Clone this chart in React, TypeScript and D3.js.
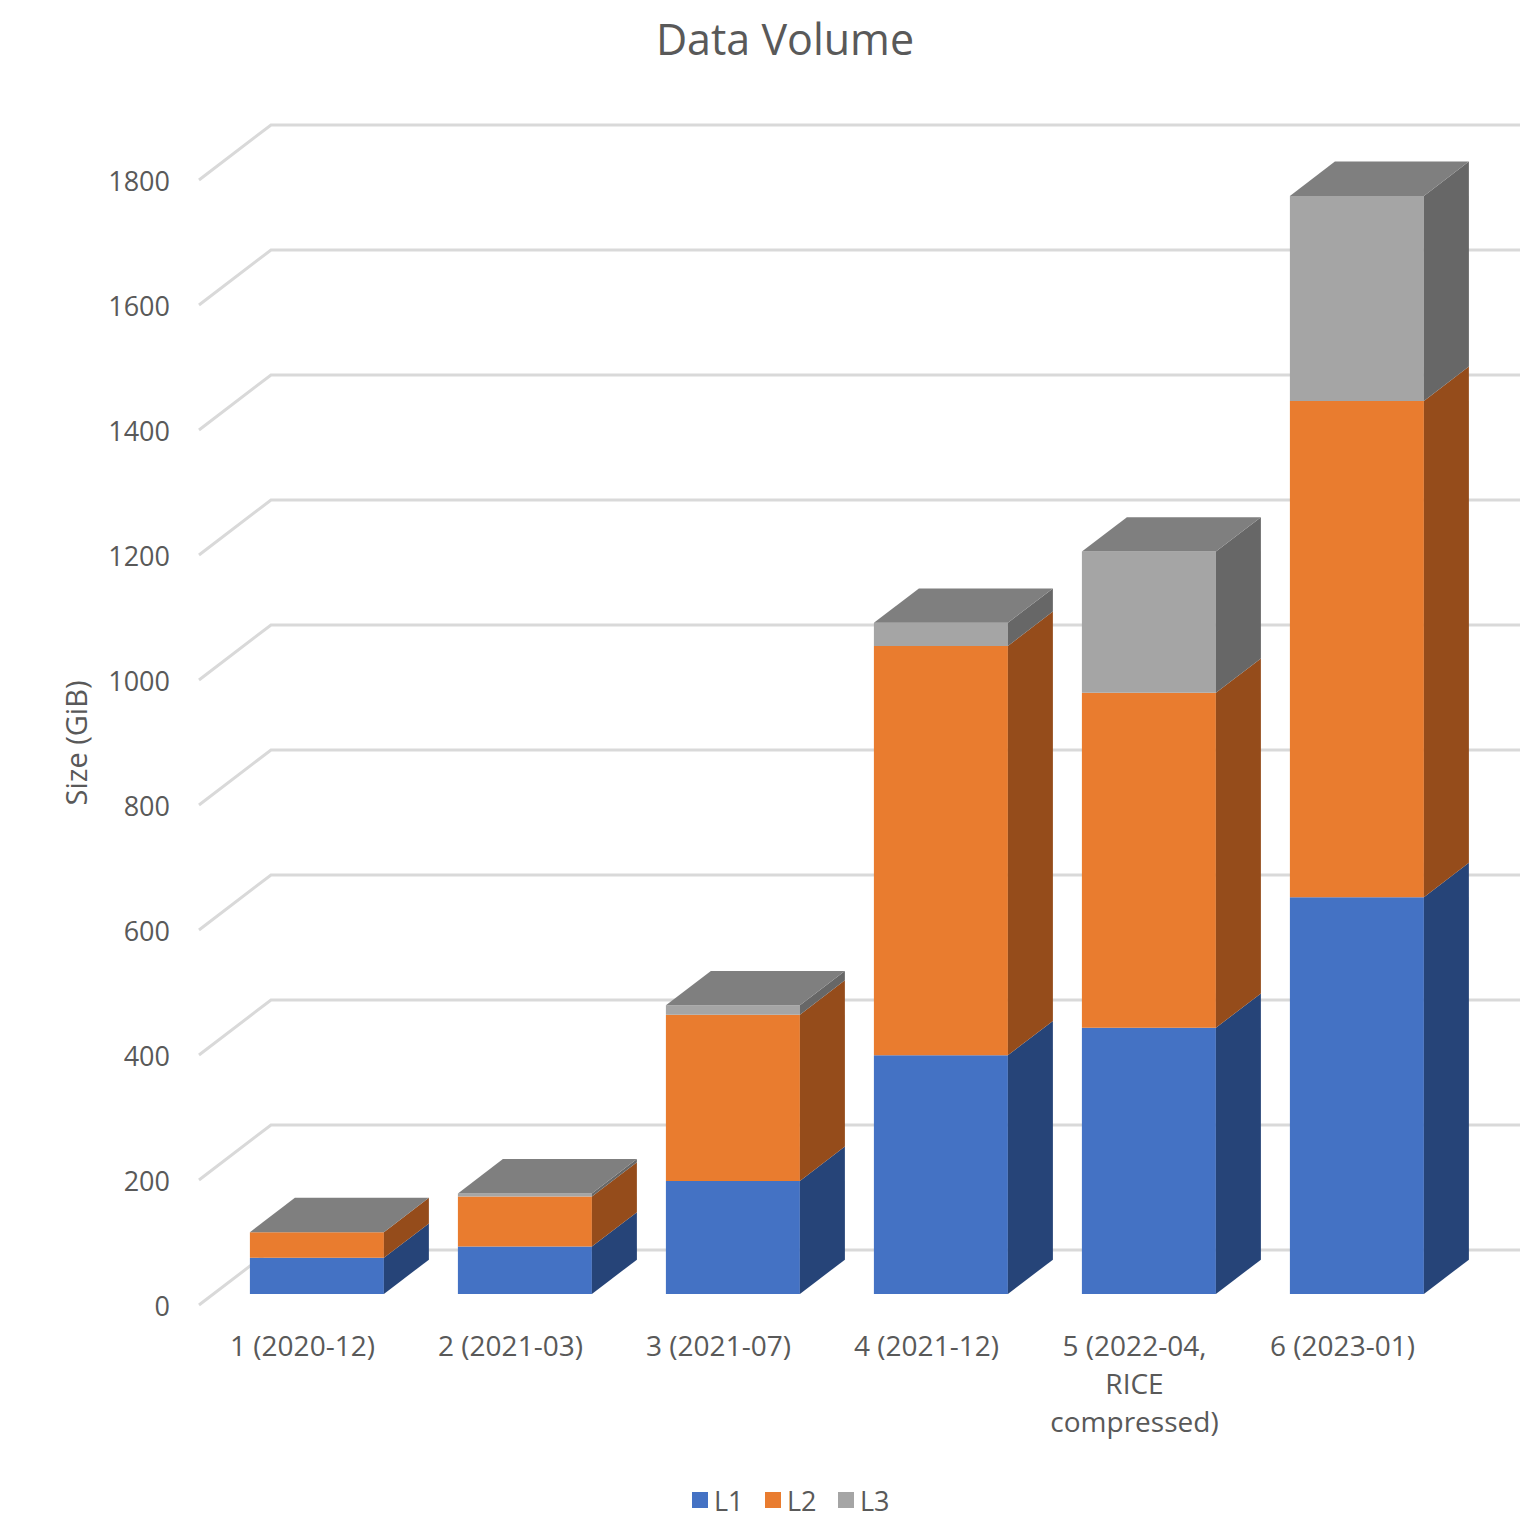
import React from "react";
import * as d3 from "d3";

const categories = ["1 (2020-12)", "2 (2021-03)", "3 (2021-07)", "4 (2021-12)", "5 (2022-04, RICE compressed)", "6 (2023-01)"];
const categoryLines = [["1 (2020-12)"], ["2 (2021-03)"], ["3 (2021-07)"], ["4 (2021-12)"], ["5 (2022-04,", "RICE", "compressed)"], ["6 (2023-01)"]];
const seriesNames = ["L1", "L2", "L3"];
const L1 = [58, 76, 181, 382, 426, 635];
const L2 = [41, 80, 266, 655, 536, 794];
const L3 = [0, 5, 15, 37, 226, 328];
const yTicks = [0, 200, 400, 600, 800, 1000, 1200, 1400, 1600, 1800];

const faceColors = ["#4472C4", "#E97C2F", "#A5A5A5"];
const sideColors = ["#264478", "#954C1B", "#676767"];
const topColor = "#7F7F7F";

const W = 1523, H = 1520;
const DX = 72, DY = -55;
const ZF = 0.2, ZB = 0.825;

export default function App() {
  const x = d3.scaleBand<string>().domain(categories).range([198.5, 198.5 + 6 * 208]).paddingInner(74 / 208).paddingOuter(37 / 208);
  const y = d3.scaleLinear().domain([0, 1800]).range([1305, 180]);
  const P = (px: number, v: number, z: number): [number, number] => [px + z * DX, y(v) + z * DY];
  const poly = (pts: [number, number][]) => pts.map(p => p.join(",")).join(" ");
  const series = [L1, L2, L3];
  const stack = d3.stack<number>().keys(["0", "1", "2"]).value((i, k) => series[+k][i]);
  const stacked = stack(d3.range(categories.length));
  const font = "'Open Sans', 'Noto Sans', sans-serif";
  const textColor = "#595959";
  const x0 = 199, x1 = 199 + 6 * 208;

  return (
    <div style={{ position: "absolute", left: 0, top: 0 }}>
      <svg width={W} height={H} style={{ display: "block", background: "#fff" }} fontFamily={font}>
        <text x={785} y={38} textAnchor="middle" dominantBaseline="central" fontSize={43} fill={textColor}>Data Volume</text>
        {yTicks.map(t => {
          const a = P(x0, t, 0), b = P(x0, t, 1), c = P(x1, t, 1);
          return (
            <polyline key={t} points={poly([a, b, [c[0] + 1, c[1]]])} fill="none" stroke="#D9D9D9" strokeWidth={3} />
          );
        })}
        {yTicks.map(t => (
          <text key={"l" + t} x={170} y={y(t)} textAnchor="end" dominantBaseline="central" fontSize={27} fill={textColor}>{t}</text>
        ))}
        <text transform={`translate(75,743) rotate(-90)`} textAnchor="middle" dominantBaseline="central" fontSize={29} fill={textColor}>Size (GiB)</text>
        {categories.map((c, i) => {
          const xl = x(c)!, xr = xl + x.bandwidth();
          const top = stacked[2][i][1];
          return (
            <g key={c}>
              {stacked.map((s, k) => {
                const v0 = s[i][0], v1 = s[i][1];
                if (v1 - v0 <= 0) return null;
                return (
                  <g key={k}>
                    <polygon points={poly([P(xl, v0, ZF), P(xr, v0, ZF), P(xr, v1, ZF), P(xl, v1, ZF)])} fill={faceColors[k]} />
                    <polygon points={poly([P(xr, v0, ZF), P(xr, v0, ZB), P(xr, v1, ZB), P(xr, v1, ZF)])} fill={sideColors[k]} />
                  </g>
                );
              })}
              <polygon points={poly([P(xl, top, ZF), P(xr, top, ZF), P(xr, top, ZB), P(xl, top, ZB)])} fill={topColor} />
            </g>
          );
        })}
        {categories.map((c, i) => {
          const cx = x(c)! + x.bandwidth() / 2;
          return (
            <text key={"c" + c} x={cx} y={1345} textAnchor="middle" dominantBaseline="central" fontSize={28} fill={textColor}>
              {categoryLines[i].map((ln, j) => (
                <tspan key={j} x={cx} dy={j === 0 ? 0 : 38}>{ln}</tspan>
              ))}
            </text>
          );
        })}
        {seriesNames.map((n, k) => (
          <g key={n} transform={`translate(${692 + k * 73},1500)`}>
            <rect x={0} y={-8} width={16} height={16} fill={faceColors[k]} />
            <text x={22} y={0} dominantBaseline="central" fontSize={27} fill={textColor}>{n}</text>
          </g>
        ))}
      </svg>
    </div>
  );
}
